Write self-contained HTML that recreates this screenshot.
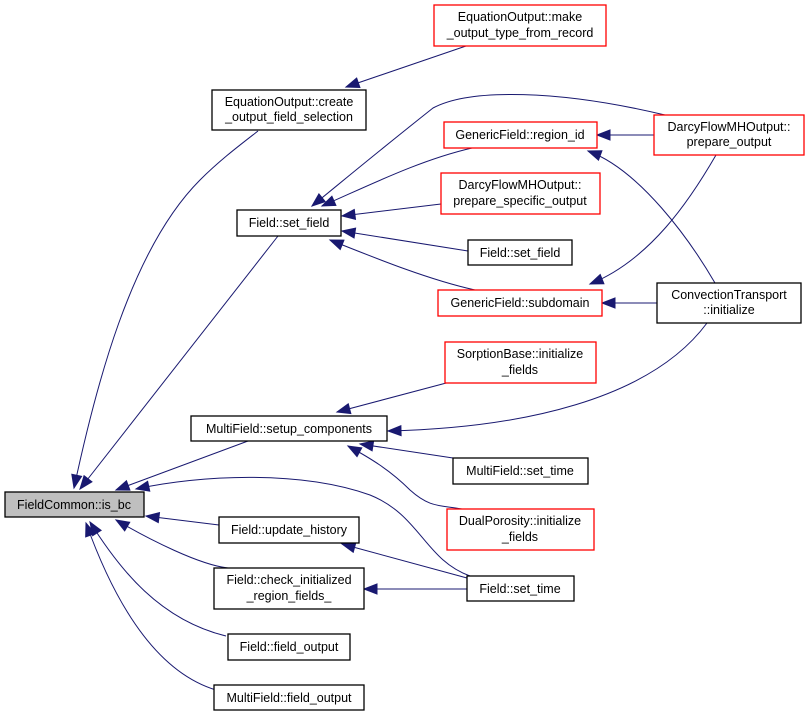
<!DOCTYPE html>
<html><head><meta charset="utf-8"><style>
html,body{margin:0;padding:0;background:#fff;}
svg{display:block;}
text{font-family:"Liberation Sans",sans-serif;font-size:12.5px;fill:#000;}
.n{fill:#fff;stroke:#000;stroke-width:1.3;}
.r{fill:#fff;stroke:#ff0000;stroke-width:1.3;}
.e{fill:none;stroke:#191970;stroke-width:1;marker-start:url(#a);}
</style></head><body>
<svg width="809" height="717" viewBox="0 0 809 717" xmlns="http://www.w3.org/2000/svg">
<defs><marker id="a" markerWidth="14" markerHeight="12" refX="0" refY="5" orient="auto" markerUnits="userSpaceOnUse" overflow="visible"><path d="M13,0 L0,5 L13,10 z" fill="#191970" stroke="#191970"/></marker></defs>

<path class="e" d="M346,87 L466,46"/>
<path class="e" d="M74,488 C95,390 130,250 200,180 C220,160 240,145 258,131"/>
<path class="e" d="M312,206 C350,175 380,150 433,108 C470,88 560,90 665,115"/>
<path class="e" d="M322,206 C370,185 420,160 472,148"/>
<path class="e" d="M342,216 L441,204"/>
<path class="e" d="M342,231 L468,251"/>
<path class="e" d="M330,240 C380,260 430,280 475,290"/>
<path class="e" d="M80,489 L278,236"/>
<path class="e" d="M597,135 L654,135"/>
<path class="e" d="M588,151 C640,170 690,240 715,283"/>
<path class="e" d="M590,284 C650,260 690,200 716,155"/>
<path class="e" d="M602,303 L657,303"/>
<path class="e" d="M337,412 L450,382"/>
<path class="e" d="M388,431 C520,428 650,400 707,323"/>
<path class="e" d="M360,444 L453,458"/>
<path class="e" d="M348,446 C370,458 390,470 410,490 C430,508 440,505 462,509"/>
<path class="e" d="M116,490 L248,441"/>
<path class="e" d="M136,489 C200,475 300,470 370,495 C420,515 425,560 470,576"/>
<path class="e" d="M146,516 L219,525"/>
<path class="e" d="M342,544 L467,578"/>
<path class="e" d="M116,520 C150,540 200,565 228,568"/>
<path class="e" d="M364,589 L467,589"/>
<path class="e" d="M90,522 C120,570 160,620 226,636"/>
<path class="e" d="M86,523 C110,590 150,670 216,690"/>

<rect x="5" y="492" width="139" height="25" fill="#bfbfbf" stroke="#000" stroke-width="1.3"/>
<text x="74" y="509" text-anchor="middle">FieldCommon::is_bc</text>

<rect class="n" x="212" y="90" width="154" height="40"/>
<text x="289" y="106" text-anchor="middle">EquationOutput::create</text>
<text x="289" y="121" text-anchor="middle">_output_field_selection</text>

<rect class="n" x="237" y="210" width="104" height="26"/>
<text x="289" y="227" text-anchor="middle">Field::set_field</text>

<rect class="r" x="434" y="5" width="172" height="41"/>
<text x="520" y="21" text-anchor="middle">EquationOutput::make</text>
<text x="520" y="37" text-anchor="middle">_output_type_from_record</text>

<rect class="r" x="444" y="122" width="153" height="26"/>
<text x="520" y="139" text-anchor="middle">GenericField::region_id</text>

<rect class="r" x="654" y="115" width="150" height="40"/>
<text x="729" y="131" text-anchor="middle">DarcyFlowMHOutput::</text>
<text x="729" y="146" text-anchor="middle">prepare_output</text>

<rect class="r" x="441" y="173" width="159" height="41"/>
<text x="520" y="189" text-anchor="middle">DarcyFlowMHOutput::</text>
<text x="520" y="205" text-anchor="middle">prepare_specific_output</text>

<rect class="n" x="468" y="240" width="104" height="25"/>
<text x="520" y="257" text-anchor="middle">Field::set_field</text>

<rect class="r" x="438" y="290" width="164" height="26"/>
<text x="520" y="307" text-anchor="middle">GenericField::subdomain</text>

<rect class="n" x="657" y="283" width="144" height="40"/>
<text x="729" y="299" text-anchor="middle">ConvectionTransport</text>
<text x="729" y="314" text-anchor="middle">::initialize</text>

<rect class="r" x="445" y="342" width="151" height="41"/>
<text x="520" y="358" text-anchor="middle">SorptionBase::initialize</text>
<text x="520" y="374" text-anchor="middle">_fields</text>

<rect class="n" x="191" y="416" width="196" height="25"/>
<text x="289" y="433" text-anchor="middle">MultiField::setup_components</text>

<rect class="n" x="453" y="458" width="135" height="26"/>
<text x="520" y="475" text-anchor="middle">MultiField::set_time</text>

<rect class="r" x="447" y="509" width="147" height="41"/>
<text x="520" y="525" text-anchor="middle">DualPorosity::initialize</text>
<text x="520" y="541" text-anchor="middle">_fields</text>

<rect class="n" x="219" y="517" width="140" height="26"/>
<text x="289" y="534" text-anchor="middle">Field::update_history</text>

<rect class="n" x="214" y="568" width="150" height="41"/>
<text x="289" y="584" text-anchor="middle">Field::check_initialized</text>
<text x="289" y="600" text-anchor="middle">_region_fields_</text>

<rect class="n" x="467" y="576" width="107" height="25"/>
<text x="520" y="593" text-anchor="middle">Field::set_time</text>

<rect class="n" x="228" y="634" width="122" height="26"/>
<text x="289" y="651" text-anchor="middle">Field::field_output</text>

<rect class="n" x="214" y="685" width="150" height="25"/>
<text x="289" y="702" text-anchor="middle">MultiField::field_output</text>
</svg>
</body></html>
